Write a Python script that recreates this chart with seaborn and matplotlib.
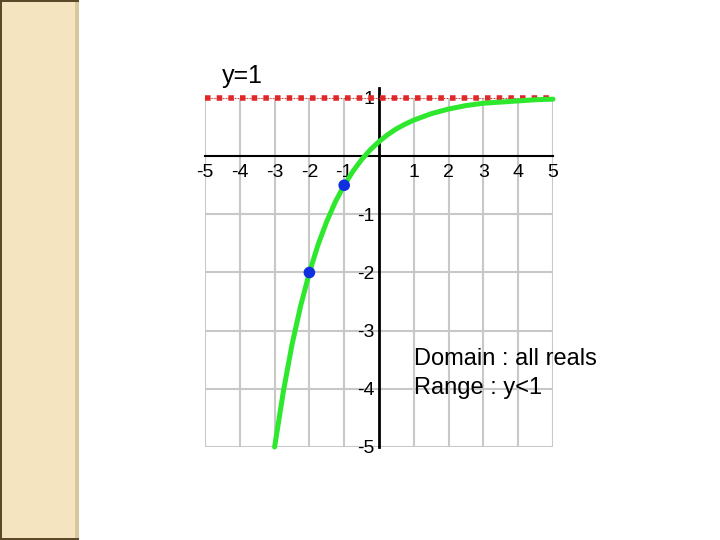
import numpy as np
import pandas as pd
import matplotlib.pyplot as plt
import seaborn as sb
from matplotlib.patches import Rectangle

# Curve values (green line)
curve_x = [-3, -2.75, -2.5, -2.25, -2, -1.75, -1.5, -1.25, -1, -0.75, -0.5, -0.25,
           0, 0.25, 0.5, 0.75, 1, 1.5, 2, 2.5, 3, 3.5, 4, 4.5, 5]
curve_y = [-5, -4.05, -3.24, -2.57, -2, -1.52, -1.12, -0.78, -0.5, -0.26, -0.06, 0.11,
           0.25, 0.37, 0.47, 0.55, 0.62, 0.73, 0.81, 0.87, 0.91, 0.93, 0.95, 0.97, 0.98]

# Highlighted points (blue)
point_x = [-1, -2]
point_y = [-0.5, -2]

# Horizontal asymptote y=1
asym_x = [-5, 5]
asym_y = [1, 1]

x_ticks = [-5, -4, -3, -2, -1, 1, 2, 3, 4, 5]
y_ticks = [-5, -4, -3, -2, -1, 1]

sb.set_style("white")
plt.rcParams['font.family'] = ['Liberation Sans', 'DejaVu Sans']
plt.rcParams['text.color'] = 'black'

fig = plt.figure(figsize=(7.2, 5.4), dpi=100)

# beige strip on the left
fig.patches.append(Rectangle((0, 0), 77 / 720, 1, transform=fig.transFigure,
                             facecolor='#f4e4bf', edgecolor='none', zorder=0))
fig.patches.append(Rectangle((75 / 720, 0), 4 / 720, 1, transform=fig.transFigure,
                             facecolor='#d8c79c', edgecolor='none', zorder=0))
fig.patches.append(Rectangle((0, 1 - 2 / 540), 79 / 720, 2 / 540, transform=fig.transFigure,
                             facecolor='#5a4828', edgecolor='none', zorder=1))
fig.patches.append(Rectangle((0, 0), 79 / 720, 2 / 540, transform=fig.transFigure,
                             facecolor='#5a4828', edgecolor='none', zorder=1))
fig.patches.append(Rectangle((0, 0), 2 / 720, 1, transform=fig.transFigure,
                             facecolor='#5a4828', edgecolor='none', zorder=1))

ax = fig.add_axes([205 / 720, 1 - 447 / 540, 348 / 720, 349 / 540])
ax.set_xlim(-5, 5)
ax.set_ylim(-5, 1)

# grid
ax.set_xticks(x_ticks)
ax.set_yticks(y_ticks)
ax.grid(True, color='#c8c8c8', linewidth=1.5, zorder=0)

# axes through origin
ax.spines['top'].set_visible(False)
ax.spines['right'].set_visible(False)
ax.spines['left'].set_position(('data', 0))
ax.spines['bottom'].set_position(('data', 0))
ax.spines['left'].set_bounds(-5, 1.18)
ax.spines['left'].set_linewidth(2)
ax.spines['bottom'].set_linewidth(1.5)
ax.spines['left'].set_color('black')
ax.spines['bottom'].set_color('black')
ax.spines['left'].set_zorder(3)
ax.spines['bottom'].set_zorder(3)

ax.tick_params(axis='x', direction='in', length=6, width=1.5, pad=6,
               labelsize=14, colors='black')
ax.tick_params(axis='y', direction='in', length=6, width=1.5, pad=3,
               labelsize=14, colors='black')
ax.set_xticklabels([str(t) for t in x_ticks])
ax.set_yticklabels([str(t) for t in y_ticks])

# asymptote: thin dotted line with square dots on top
sb.lineplot(x=asym_x, y=asym_y, ax=ax, color='#e03030', linewidth=0.8,
            linestyle=':', zorder=4, clip_on=False)
sb.lineplot(x=asym_x, y=asym_y, ax=ax, color='#e02828', linewidth=4.0,
            zorder=4, clip_on=False)
ax.lines[-1].set_dashes((1, 1.1))
ax.lines[-1].set_dash_capstyle('butt')

# curve
df = pd.DataFrame({'x': curve_x, 'y': curve_y})
sb.lineplot(data=df, x='x', y='y', ax=ax, color='#2ee82e', linewidth=3.6,
            sort=False, zorder=5, clip_on=False)

# points
sb.scatterplot(x=point_x, y=point_y, ax=ax, color='#1030e0', s=70,
               edgecolor='none', zorder=6)

ax.set_xlabel('')
ax.set_ylabel('')

ax.text(-4.52, 1.38, 'y=1', fontsize=18, va='center', ha='left', color='black')
ax.text(1.0, -3.48, 'Domain : all reals', fontsize=17, va='center', ha='left', color='black')
ax.text(1.0, -3.98, 'Range : y<1', fontsize=17, va='center', ha='left', color='black')

fig.savefig('out.png', dpi=100)
